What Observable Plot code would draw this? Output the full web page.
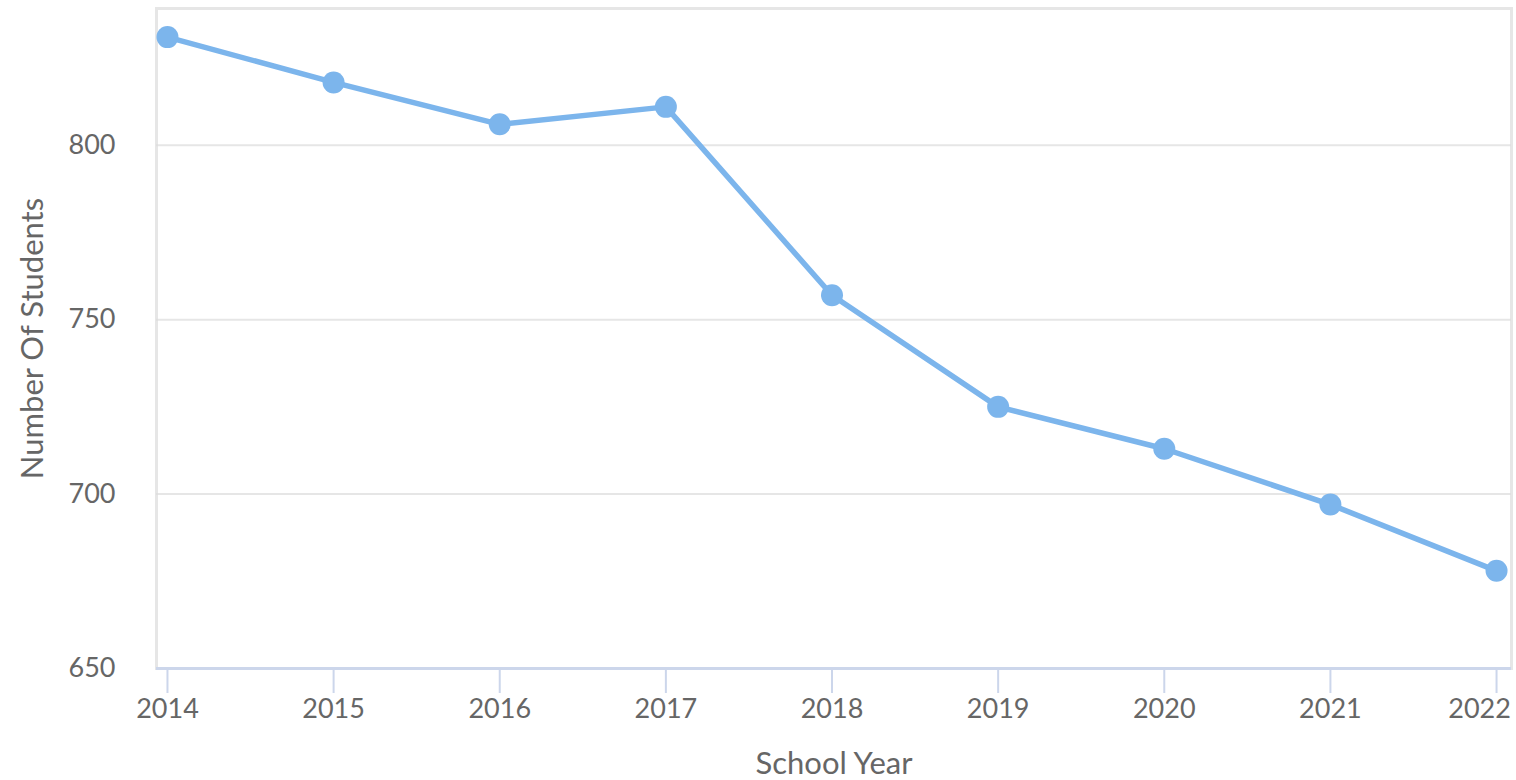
<!DOCTYPE html>
<html>
<head>
<meta charset="utf-8">
<script src="https://cdn.jsdelivr.net/npm/d3@7"></script>
<script src="https://cdn.jsdelivr.net/npm/@observablehq/plot@0.6"></script>
<style>
  html, body { margin: 0; padding: 0; background: #ffffff; }
  #chart { width: 1516px; height: 780px; }
  svg { font-family: Lato, "Open Sans", sans-serif; }
</style>
</head>
<body>
<div id="chart"></div>
<script>
const years = [2014, 2015, 2016, 2017, 2018, 2019, 2020, 2021, 2022];
const students = [831, 818, 806, 811, 757, 725, 713, 697, 678];
const yTicks = [650, 700, 750, 800];
const xLabel = "School Year";
const yLabel = "Number Of Students";

const data = years.map((y, i) => ({year: y, value: students[i]}));
const lineColor = "#7cb5ec";
const textColor = "#666666";
const lastYear = years[years.length - 1];

const chart = Plot.plot({
  width: 1516,
  height: 780,
  marginLeft: 156,
  marginRight: 5,
  marginTop: 8,
  marginBottom: 112,
  style: {fontFamily: "Lato, 'Open Sans', sans-serif", fontSize: "27px", color: textColor, background: "#ffffff"},
  x: {domain: [2013.934, 2022.09], label: null},
  y: {domain: [650, 839.2], label: null},
  marks: [
    Plot.gridY(yTicks, {stroke: "#e6e6e6", strokeWidth: 2, strokeOpacity: 1}),
    Plot.frame({stroke: "#dcdcdc", strokeWidth: 3, strokeOpacity: 0.7}),
    Plot.ruleY([650], {stroke: "#ccd6eb", strokeWidth: 3}),
    Plot.axisX(years, {
      tickSize: 25, tickPadding: 5, tickFormat: () => "",
      stroke: "#ccd6eb", strokeWidth: 2, label: null
    }),
    Plot.axisX(years.filter(y => y !== lastYear), {
      tickSize: 0, tickPadding: 30, tickFormat: d => String(d),
      fill: textColor, fontSize: 27, label: null
    }),
    Plot.axisX([lastYear], {
      tickSize: 0, tickPadding: 30, tickFormat: d => String(d), dx: -17,
      fill: textColor, fontSize: 27, label: null
    }),
    Plot.axisY(yTicks, {
      tickSize: 0, tickPadding: 41, fill: textColor, fontSize: 27, label: null
    }),
    Plot.line(data, {x: "year", y: "value", stroke: lineColor, strokeWidth: 5.5, curve: "linear"}),
    Plot.dot(data, {x: "year", y: "value", r: 11, fill: lineColor, stroke: "none"}),
    Plot.text([yLabel], {text: d => d, frameAnchor: "left", rotate: -90, textAnchor: "middle", dx: -123, fill: textColor, fontSize: 31}),
    Plot.text([xLabel], {text: d => d, frameAnchor: "bottom", textAnchor: "middle", dy: 105, fill: textColor, fontSize: 31})
  ]
});
document.getElementById("chart").appendChild(chart);
</script>
</body>
</html>
